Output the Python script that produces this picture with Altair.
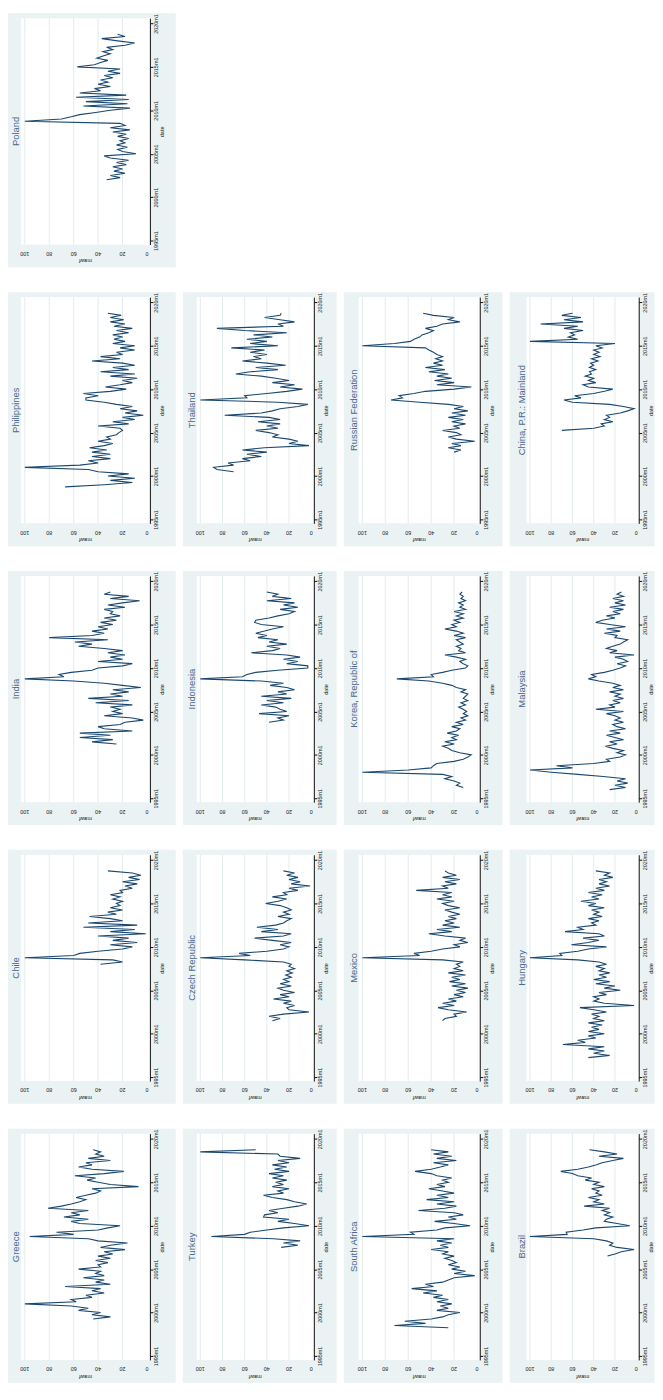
import altair as alt
import pandas as pd

FONT = "Liberation Sans"
LINE_C = "#1a476f"
BG_C = "#EAF2F3"
GRID_C = "#E2EBED"
TITLE_C = "#4a6890"
TEXT_C = "#222222"

years = [1995, 2000, 2005, 2010, 2015, 2020]
value_ticks = [0, 20, 40, 60, 80, 100]
grid_ticks = [20, 40, 60, 80, 100]

# quarterly readings (first value at the start date given in `series`)
poland = [33, 22, 30, 18, 27, 20, 28, 17, 25, 15, 30, 35, 9, 20, 24, 16, 25, 18, 22, 15,
          24, 17, 28, 14, 30, 18, 22, 100, 70, 62, 55, 42, 30, 14, 52, 16, 50, 15, 58, 17,
          55, 38, 43, 30, 40, 32, 38, 28, 35, 22, 32, 22, 57, 43, 38, 32, 41, 36, 30, 36,
          28, 33, 18, 10, 24, 37, 18, 24]
philippines = [67, 35, 12, 30, 10, 32, 15, 40, 48, 100, 55, 40, 48, 30, 45, 30, 45, 33, 47, 35,
               28, 40, 30, 33, 25, 23, 20, 22, 40, 15, 28, 10, 20, 3, 18, 8, 22, 12, 25, 35,
               50, 50, 40, 52, 30, 17, 34, 22, 12, 20, 8, 30, 10, 38, 15, 28, 10, 20, 45, 22,
               38, 20, 25, 10, 22, 10, 28, 18, 27, 20, 28, 15, 25, 12, 27, 18, 30, 19, 30, 21, 32]
thailand = [70, 85, 88, 70, 75, 55, 62, 45, 58, 40, 62, 42, 2, 20, 12, 20, 35, 30, 38, 50,
            30, 40, 28, 48, 28, 38, 78, 45, 35, 28, 12, 3, 30, 100, 58, 60, 40, 22, 8, 28,
            15, 35, 20, 32, 45, 68, 55, 30, 50, 23, 40, 62, 45, 52, 40, 55, 42, 72, 30, 55,
            40, 58, 35, 52, 22, 60, 85, 25, 30, 15, 28, 42, 28, 27]
russia = [20, 14, 25, 14, 22, 2, 18, 25, 14, 18, 30, 15, 20, 10, 22, 12, 25, 10, 22, 8,
          20, 12, 25, 50, 75, 65, 68, 55, 45, 20, 5, 35, 20, 37, 22, 35, 25, 42, 28, 45,
          30, 38, 30, 36, 30, 35, 38, 42, 45, 100, 72, 58, 55, 50, 48, 42, 38, 45, 35, 30,
          15, 25, 20, 38, 47]
china = [70, 40, 30, 33, 22, 30, 25, 28, 15, 8, 2, 12, 25, 60, 68, 52, 58, 40, 30, 22,
         45, 50, 38, 45, 40, 48, 42, 44, 38, 44, 40, 43, 36, 42, 34, 40, 35, 40, 32, 38,
         20, 100, 55, 64, 58, 62, 50, 68, 55, 90, 50, 68, 52, 70, 60]
india = [25, 45, 28, 55, 30, 55, 12, 35, 40, 22, 18, 3, 12, 35, 20, 28, 22, 30, 12, 42,
         15, 48, 20, 30, 15, 28, 5, 20, 35, 60, 100, 68, 72, 62, 45, 40, 20, 12, 40, 20,
         30, 18, 32, 20, 35, 56, 45, 59, 32, 80, 45, 35, 45, 32, 40, 28, 38, 25, 35, 22,
         30, 28, 35, 18, 32, 20, 6, 30, 15, 35, 30]
indonesia = [38, 25, 30, 20, 47, 22, 28, 32, 45, 25, 40, 18, 45, 22, 30, 15, 22, 37, 25, 45,
             100, 62, 58, 50, 30, 3, 3, 22, 12, 25, 10, 22, 54, 35, 28, 40, 22, 38, 30, 48,
             40, 50, 42, 35, 25, 45, 51, 50, 38, 30, 20, 15, 28, 12, 25, 15, 40, 18, 35, 30, 40]
korea = [12, 18, 15, 20, 28, 22, 30, 100, 60, 40, 38, 35, 20, 12, 8, 5, 15, 22, 25, 30,
         20, 28, 18, 22, 16, 26, 18, 15, 22, 12, 18, 10, 14, 8, 12, 9, 12, 16, 10, 14,
         8, 12, 10, 8, 14, 10, 18, 22, 30, 42, 70, 38, 40, 30, 22, 10, 8, 12, 15, 10,
         18, 28, 10, 16, 14, 18, 12, 15, 18, 10, 20, 12, 18, 28, 18, 22, 15, 20, 12, 18,
         12, 20, 10, 15, 12, 16, 10, 14, 12, 15, 13]
malaysia = [25, 10, 20, 8, 18, 10, 31, 55, 80, 100, 60, 75, 40, 25, 28, 15, 10, 18, 12, 22,
            29, 18, 25, 12, 20, 28, 15, 25, 10, 18, 22, 12, 20, 15, 20, 28, 12, 38, 20, 25,
            15, 22, 12, 20, 15, 25, 12, 22, 15, 22, 35, 45, 38, 42, 30, 22, 15, 10, 18, 8,
            12, 20, 2, 25, 18, 28, 22, 15, 12, 8, 20, 18, 30, 15, 28, 10, 25, 38, 32, 20,
            28, 15, 22, 12, 25, 10, 20, 12, 22, 12, 18, 14]
chile = [38, 20, 28, 100, 60, 55, 40, 20, 12, 30, 8, 28, 15, 40, 1, 30, 10, 52, 8, 48,
         20, 30, 47, 25, 32, 20, 30, 22, 25, 20, 28, 22, 30, 20, 22, 12, 18, 8, 20, 6,
         15, 5, 12, 32]
czech = [35, 28, 38, 25, 2, 20, 22, 15, 25, 18, 34, 20, 28, 15, 25, 30, 18, 28, 20, 25,
         18, 23, 17, 22, 15, 20, 18, 25, 60, 100, 55, 65, 40, 25, 20, 28, 18, 35, 51, 25,
         18, 45, 30, 49, 32, 25, 22, 18, 30, 20, 25, 18, 22, 28, 41, 30, 22, 35, 22, 25,
         12, 20, 1, 18, 10, 20, 12, 22, 15, 25]
mexico = [30, 28, 18, 20, 9, 25, 34, 20, 30, 18, 25, 12, 20, 10, 18, 8, 22, 10, 24, 15,
          22, 10, 25, 12, 20, 15, 18, 12, 30, 100, 50, 55, 40, 30, 15, 20, 8, 15, 10, 28,
          42, 22, 35, 15, 30, 20, 28, 18, 25, 15, 22, 28, 15, 25, 30, 20, 35, 22, 30, 22,
          53, 25, 30, 18, 28, 15, 30, 18, 25, 28]
hungary = [45, 25, 40, 30, 45, 30, 69, 48, 55, 38, 45, 30, 45, 35, 42, 32, 45, 30, 40, 35,
           42, 28, 40, 53, 2, 30, 40, 35, 40, 28, 35, 15, 30, 20, 38, 25, 40, 28, 35, 25,
           35, 30, 38, 28, 35, 55, 100, 70, 72, 55, 45, 28, 61, 45, 35, 50, 30, 35, 67, 50,
           55, 38, 42, 35, 45, 32, 40, 35, 42, 30, 45, 38, 52, 35, 42, 32, 45, 30, 38, 25,
           35, 28, 35, 22, 30, 25, 38]
greece = [44, 30, 45, 38, 56, 48, 62, 100, 58, 62, 45, 50, 35, 45, 38, 67, 30, 42, 35, 52,
          35, 42, 38, 56, 38, 40, 32, 42, 30, 40, 28, 35, 18, 38, 30, 16, 40, 48, 96, 60,
          74, 40, 32, 22, 55, 62, 48, 68, 55, 62, 48, 81, 70, 62, 55, 50, 58, 50, 42, 38,
          45, 7, 30, 40, 49, 42, 59, 35, 19, 45, 56, 45, 50, 30, 48, 35, 42, 38, 44]
turkey = [27, 12, 25, 10, 34, 90, 60, 55, 40, 25, 2, 15, 30, 20, 43, 42, 30, 38, 25, 12,
          4, 15, 22, 35, 43, 25, 30, 20, 35, 25, 32, 22, 35, 25, 38, 20, 33, 22, 35, 20,
          30, 10, 28, 30, 100, 50]
south_africa = [25, 72, 45, 63, 40, 30, 25, 15, 35, 25, 32, 22, 35, 25, 38, 30, 47, 35, 57, 38,
                45, 30, 25, 20, 2, 20, 10, 22, 15, 25, 18, 22, 28, 20, 30, 25, 40, 25, 32, 22,
                35, 20, 100, 55, 58, 35, 28, 6, 20, 37, 18, 25, 12, 20, 51, 28, 18, 35, 20, 44,
                25, 35, 20, 30, 42, 28, 35, 25, 30, 22, 35, 40, 54, 40, 32, 25, 38, 18, 35, 22,
                38, 25, 40]
brazil = [27, 20, 14, 2, 18, 25, 22, 28, 40, 100, 65, 66, 50, 38, 6, 18, 30, 28, 22, 30,
          25, 32, 25, 49, 30, 40, 35, 45, 32, 38, 35, 42, 30, 40, 35, 48, 42, 55, 60, 71,
          55, 45, 38, 32, 22, 12, 35, 18, 30, 44]

series = {
    "Poland": (2002.0, poland),
    "Philippines": (1998.75, philippines),
    "Thailand": (2000.5, thailand),
    "Russian Federation": (2002.75, russia),
    "China, P.R.: Mainland": (2005.25, china),
    "India": (2001.25, india),
    "Indonesia": (2003.75, indonesia),
    "Korea, Republic of": (1996.25, korea),
    "Malaysia": (1996.0, malaysia),
    "Chile": (2008.0, chile),
    "Czech Republic": (2001.5, czech),
    "Mexico": (2001.5, mexico),
    "Hungary": (1997.25, hungary),
    "Greece": (1999.25, greece),
    "Turkey": (2007.5, turkey),
    "South Africa": (1998.25, south_africa),
    "Brazil": (2006.5, brazil),
}

rows = [
    ["Poland"],
    ["Philippines", "Thailand", "Russian Federation", "China, P.R.: Mainland"],
    ["India", "Indonesia", "Korea, Republic of", "Malaysia"],
    ["Chile", "Czech Republic", "Mexico", "Hungary"],
    ["Greece", "Turkey", "South Africa", "Brazil"],
]

col_w = [130, 118, 122, 113]
col_l = [13, 14, 15, 17]
col_r = [26, 23, 23, 16]
H, T, B = 228, 5, 23


def panel(name, ci):
    start, vals = series[name]
    df = pd.DataFrame({"t": [start + 0.25 * i for i in range(len(vals))], "v": vals})
    W = col_w[ci]
    one = pd.DataFrame({"label": [name], "xt": ["mawf"]})
    xscale = alt.Scale(domain=[-2.4, 103.2], reverse=True, nice=False, zero=False)
    yscale = alt.Scale(domain=[1994.55, 2020.6], nice=False, zero=False)

    bg = alt.Chart(one).mark_rect(color=BG_C).encode(
        x=alt.value(-col_l[ci]), x2=alt.value(W + col_r[ci]),
        y=alt.value(-T), y2=alt.value(H + B))
    plot = alt.Chart(one).mark_rect(color="white").encode(
        x=alt.value(0), x2=alt.value(W), y=alt.value(0), y2=alt.value(H))
    title = alt.Chart(one).mark_text(
        angle=270, align="center", baseline="middle", fontSize=9.5, font=FONT,
        color=TITLE_C).encode(
        text="label:N", x=alt.value(-5), y=alt.value(H / 2))
    xtitle = alt.Chart(one).mark_text(
        angle=180, align="center", baseline="middle", fontSize=5.5, font=FONT,
        color=TEXT_C).encode(
        text="xt:N", x=alt.value(W / 2), y=alt.value(H + 17))
    grid = alt.Chart(pd.DataFrame({"g": grid_ticks})).mark_rule(
        color=GRID_C, strokeWidth=1).encode(
        x=alt.X("g:Q", scale=xscale, axis=None),
        y=alt.value(0), y2=alt.value(H))
    xlabels = alt.Chart(pd.DataFrame({"tv": value_ticks})).mark_text(
        angle=180, align="center", baseline="middle", fontSize=5.5, font=FONT,
        color=TEXT_C).encode(
        x=alt.X("tv:Q", scale=xscale, axis=None),
        y=alt.value(H + 9.5), text=alt.Text("tv:Q", format="d"))
    line = alt.Chart(df).mark_line(color=LINE_C, strokeWidth=1.1).encode(
        x=alt.X("v:Q", scale=xscale, axis=alt.Axis(
            values=value_ticks, labels=False, title=None,
            tickSize=3, tickColor="#111111", domainColor="#111111", domainWidth=1,
            grid=False, zindex=1)),
        y=alt.Y("t:Q", scale=yscale, axis=alt.Axis(
            orient="right", values=years, labelExpr="datum.value + 'm1'",
            labelAngle=270, labelAlign="center", labelBaseline="top",
            labelFontSize=5.5, labelFont=FONT, labelColor=TEXT_C, labelPadding=1,
            labelFlush=False, labelOverlap=False,
            tickSize=3, tickColor="#111111", domainColor="#111111", domainWidth=1,
            grid=False, title="date", titleAngle=270, titleAlign="center",
            titleBaseline="top", titleFontSize=5.5, titleFont=FONT,
            titleFontWeight="normal", titleColor=TEXT_C, titlePadding=0, zindex=1)),
        order=alt.Order("t:Q"))

    return alt.layer(bg, plot, grid, line, xlabels, xtitle, title).properties(width=W, height=H)


row_charts = [alt.hconcat(*[panel(n, i) for i, n in enumerate(r)], spacing=7.2) for r in rows]
chart = alt.vconcat(*row_charts, spacing=25).properties(
    padding=0, background="white"
).configure_view(strokeWidth=0)

chart.save("out.html", embed_options={"renderer": "svg", "actions": False})
